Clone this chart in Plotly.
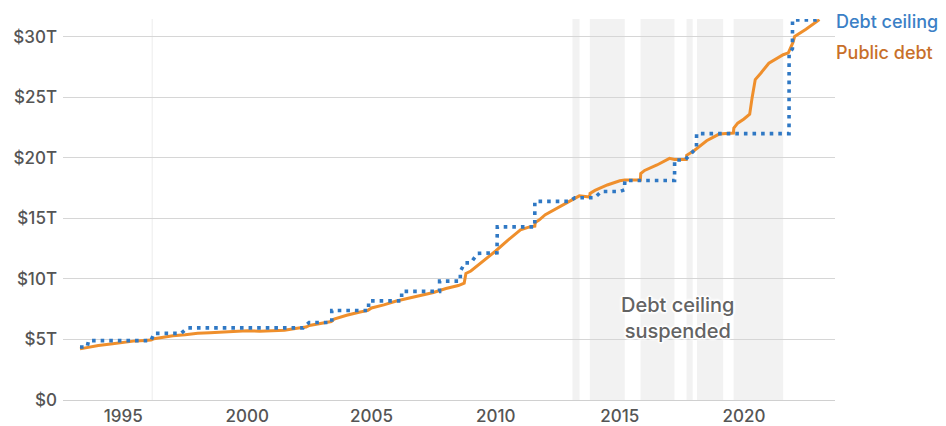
import plotly.graph_objects as go

# Public debt (trillions of dollars)
debt_dates = [
    "1993-04-06", "1993-08-01", "1994-01-01", "1994-07-01", "1995-01-01", "1995-07-01",
    "1995-11-15", "1996-02-15", "1996-03-30", "1996-07-01", "1997-01-01", "1997-07-01",
    "1998-01-01", "1998-07-01", "1999-01-01", "1999-07-01", "2000-01-01", "2000-07-01",
    "2001-01-01", "2001-07-01", "2002-01-01", "2002-05-15", "2002-07-01", "2003-01-01",
    "2003-05-20", "2003-07-01", "2004-01-01", "2004-07-01", "2004-11-10", "2005-01-01",
    "2005-07-01", "2006-01-01", "2006-07-01", "2007-01-01", "2007-07-01", "2008-01-01",
    "2008-07-01", "2008-09-25", "2008-10-20", "2009-01-01", "2009-07-01", "2010-01-01",
    "2010-07-01", "2011-01-01", "2011-05-15", "2011-07-31", "2011-08-05", "2011-10-01",
    "2012-01-01", "2012-07-01", "2013-01-01", "2013-05-15", "2013-10-15", "2013-10-20",
    "2014-01-01", "2014-07-01", "2015-01-01", "2015-03-15", "2015-10-30", "2015-11-05",
    "2016-01-01", "2016-07-01", "2017-01-01", "2017-03-15", "2017-09-05", "2017-09-10",
    "2018-01-01", "2018-07-01", "2019-01-01", "2019-07-30", "2019-08-05", "2019-10-01",
    "2020-01-01", "2020-03-25", "2020-05-01", "2020-06-15", "2020-09-01", "2021-01-01",
    "2021-07-31", "2021-10-15", "2021-12-20", "2022-01-15", "2022-07-01", "2022-10-01",
    "2023-01-15",
]
debt_values = [
    4.22, 4.35, 4.50, 4.62, 4.78, 4.88,
    4.92, 4.95, 5.06, 5.16, 5.30, 5.38,
    5.50, 5.55, 5.60, 5.65, 5.72, 5.68,
    5.72, 5.75, 5.92, 6.02, 6.15, 6.35,
    6.48, 6.68, 7.00, 7.25, 7.40, 7.60,
    7.85, 8.17, 8.40, 8.68, 8.87, 9.20,
    9.45, 9.65, 10.45, 10.65, 11.45, 12.30,
    13.20, 14.05, 14.29, 14.35, 14.65, 14.85,
    15.30, 15.85, 16.40, 16.85, 16.75, 17.05,
    17.30, 17.75, 18.10, 18.15, 18.15, 18.70,
    18.95, 19.40, 19.95, 19.85, 19.85, 20.20,
    20.60, 21.40, 21.95, 22.03, 22.45, 22.85,
    23.20, 23.60, 25.00, 26.45, 26.95, 27.80,
    28.50, 28.65, 29.50, 30.00, 30.60, 31.00,
    31.40,
]

# Debt ceiling (trillions of dollars)
ceiling_dates = [
    "1993-04-06", "1993-07-20", "1993-08-10", "1996-02-15", "1996-03-29", "1997-05-01",
    "1997-08-05", "2002-04-01", "2002-06-28", "2003-05-27", "2003-05-27", "2004-11-19",
    "2004-11-19", "2006-03-20", "2006-03-20", "2007-09-29", "2007-09-29", "2008-07-30",
    "2008-07-30", "2008-10-03", "2008-12-31", "2009-04-10", "2010-01-20", "2010-01-25",
    "2011-07-30", "2011-07-31", "2012-12-20", "2013-03-10", "2013-12-28", "2014-04-05",
    "2015-01-01", "2015-03-10", "2015-03-16", "2017-03-16", "2017-03-17", "2017-08-15",
    "2017-12-20", "2018-02-01", "2018-02-03", "2021-10-25", "2021-10-26", "2021-12-14",
    "2021-12-15", "2023-01-19",
]
ceiling_values = [
    4.37, 4.37, 4.90, 4.90, 5.50, 5.50,
    5.95, 5.95, 6.40, 6.40, 7.384, 7.384,
    8.184, 8.184, 8.965, 8.965, 9.815, 9.815,
    10.615, 11.315, 11.315, 12.10, 12.15, 14.294,
    14.294, 16.394, 16.394, 16.70, 16.70, 17.212,
    17.212, 17.35, 18.113, 18.113, 19.809, 19.809,
    20.56, 20.78, 21.988, 21.988, 28.60, 29.00,
    31.381, 31.381,
]

# Periods when the debt ceiling was suspended
suspend_starts = ["1996-02-22", "2013-02-04", "2013-10-17", "2015-11-02", "2017-09-08", "2018-02-09", "2019-08-02"]
suspend_ends = ["1996-03-15", "2013-05-18", "2015-03-15", "2017-03-15", "2017-12-08", "2019-03-01", "2021-07-31"]

y_tickvals = [0, 5, 10, 15, 20, 25, 30]
y_ticktext = ["$0", "$5T", "$10T", "$15T", "$20T", "$25T", "$30T"]
x_tickvals = ["1995-01-01", "2000-01-01", "2005-01-01", "2010-01-01", "2015-01-01", "2020-01-01"]
x_ticktext = ["1995", "2000", "2005", "2010", "2015", "2020"]

FONT = "Inter, Lato, sans-serif"
BLUE = "#2f78c4"
ORANGE = "#ef8f2c"

fig = go.Figure()

for s, e in zip(suspend_starts, suspend_ends):
    fig.add_vrect(x0=s, x1=e, fillcolor="#f2f2f2", line_width=0, layer="below")

fig.add_trace(go.Scatter(
    x=debt_dates, y=debt_values, mode="lines",
    line=dict(color=ORANGE, width=3), name="Public debt", hoverinfo="skip",
))
fig.add_trace(go.Scatter(
    x=ceiling_dates, y=ceiling_values, mode="lines",
    line=dict(color=BLUE, width=3.6, dash="3.6px,5px"), name="Debt ceiling", hoverinfo="skip",
))

fig.add_annotation(
    x=1, xref="paper", y=31.25, yref="y", xanchor="left", yanchor="middle", xshift=-1,
    text="Debt ceiling", showarrow=False,
    font=dict(family=FONT, size=18, weight=500, color="#3b80c6"),
)
fig.add_annotation(
    x=1, xref="paper", y=28.65, yref="y", xanchor="left", yanchor="middle", xshift=-1,
    text="Public debt", showarrow=False,
    font=dict(family=FONT, size=18, weight=500, color="#c8702a"),
)
halo = ("1px 1px 1px #fff, -1px -1px 1px #fff, 1px -1px 1px #fff, -1px 1px 1px #fff, "
        "2px 0 2px #fff, -2px 0 2px #fff, 0 2px 2px #fff, 0 -2px 2px #fff")
fig.add_annotation(
    x="2017-05-01", y=6.8, xanchor="center", yanchor="middle",
    text="Debt ceiling<br>suspended", showarrow=False,
    font=dict(family=FONT, size=20, weight=500, color="#636363", shadow=halo),
)

fig.update_layout(
    width=946, height=426,
    margin=dict(l=55, r=119, t=11, b=34),
    paper_bgcolor="white", plot_bgcolor="white",
    showlegend=False,
    font=dict(family=FONT, size=17, color="#555555"),
)
fig.update_xaxes(
    type="date", range=["1992-07-30", "2023-09-01"],
    tickvals=x_tickvals, ticktext=x_ticktext, automargin=False,
    showgrid=False, zeroline=False, showline=False, ticks="", ticklabelstandoff=4,
    tickfont=dict(family=FONT, size=17, weight=500, color="#555555"),
)
fig.update_yaxes(
    range=[0, 31.45], tickvals=y_tickvals, ticktext=y_ticktext, automargin=False,
    showgrid=True, gridcolor="#d6d6d6", gridwidth=1,
    zeroline=True, zerolinecolor="#d0d0d0", zerolinewidth=1,
    showline=False, ticks="", ticklabelstandoff=5,
    tickfont=dict(family=FONT, size=17, weight=500, color="#555555"),
)

fig.write_html("out.html")
